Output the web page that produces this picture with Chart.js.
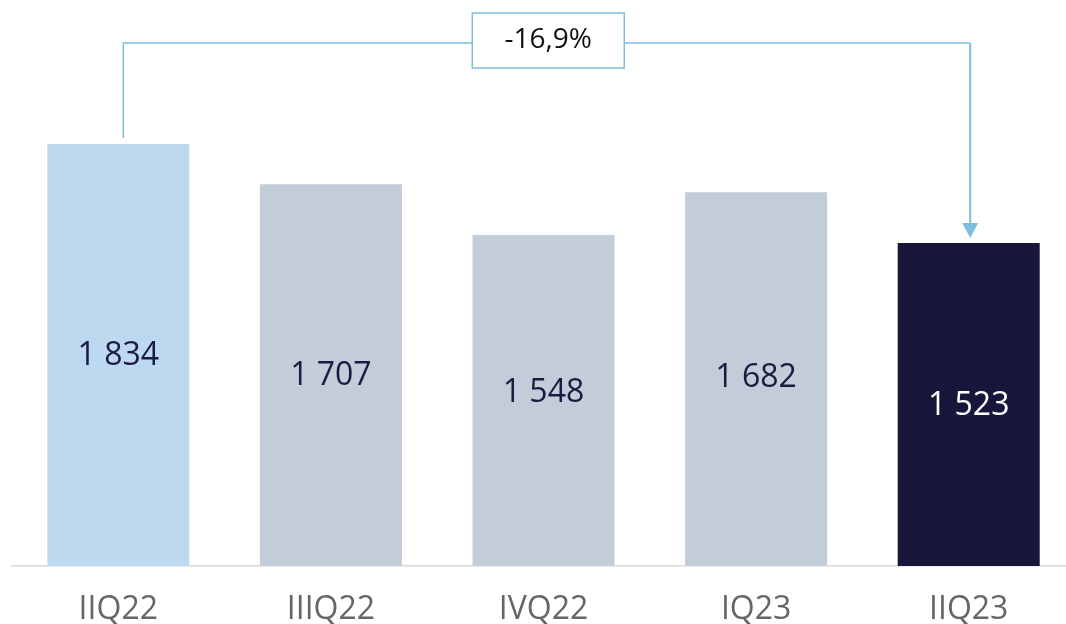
<!DOCTYPE html>
<html>
<head>
<meta charset="utf-8">
<script src="https://cdn.jsdelivr.net/npm/chart.js@4.4.1/dist/chart.umd.min.js"></script>
<style>
  html, body { margin: 0; padding: 0; background: #fff; overflow: hidden; }
  #wrap { width: 1076px; height: 624px; }
</style>
</head>
<body>
<div id="wrap"><canvas id="chart" width="1076" height="624"></canvas></div>
<script>
// Dane wykresu
const quarters = ['IIQ22', 'IIIQ22', 'IVQ22', 'IQ23', 'IIQ23'];
const values = [1834, 1707, 1548, 1682, 1523];
const valueLabels = ['1 834', '1 707', '1 548', '1 682', '1 523'];
const barColors = ['#BDD9F0', '#C3CDDA', '#C3CDDA', '#C3CDDA', '#17173B'];
const labelColors = ['#1B1B40', '#1B1B40', '#1B1B40', '#1B1B40', '#FFFFFF'];
const labelShift = [1, 1, -7.5, -1.5, 1.3]; // drobne przesuniecia etykiet jak w oryginale
const changeLabel = '-16,9%';

const FONT = "'Open Sans', 'Noto Sans', sans-serif";
const lineColor = '#7EBFDE';

// etykiety wartosci w srodku slupkow
const valueLabelPlugin = {
    id: 'valueLabels',
    afterDatasetsDraw(chart) {
        const ctx = chart.ctx;
        const meta = chart.getDatasetMeta(0);
        const bottom = chart.chartArea.bottom;
        ctx.save();
        ctx.font = '32px ' + FONT;
        ctx.textAlign = 'center';
        ctx.textBaseline = 'middle';
        meta.data.forEach((bar, i) => {
            ctx.fillStyle = labelColors[i];
            ctx.fillText(valueLabels[i], bar.x, (bar.y + bottom) / 2 + labelShift[i]);
        });
        ctx.restore();
    }
};

// klamra ze strzalka i zmiana procentowa
const bracketPlugin = {
    id: 'bracket',
    afterDatasetsDraw(chart) {
        const ctx = chart.ctx;
        const meta = chart.getDatasetMeta(0);
        const first = meta.data[0];
        const last = meta.data[meta.data.length - 1];
        const x1 = first.x + 5, x2 = last.x + 1.5;
        const topY = 43;
        const boxW = 152, boxH = 55, boxTop = 13;
        const cx = (x1 + x2) / 2 + 1.5;

        ctx.save();
        ctx.strokeStyle = lineColor;
        ctx.lineWidth = 1.5;
        ctx.beginPath();
        ctx.moveTo(x1, first.y - 6);
        ctx.lineTo(x1, topY);
        ctx.lineTo(cx - boxW / 2, topY);
        ctx.moveTo(cx + boxW / 2, topY);
        ctx.lineTo(x2, topY);
        ctx.stroke();

        const tipY = last.y - 5;
        ctx.lineWidth = 2;
        ctx.beginPath();
        ctx.moveTo(x2, topY);
        ctx.lineTo(x2, tipY - 12);
        ctx.stroke();
        ctx.fillStyle = lineColor;
        ctx.beginPath();
        ctx.moveTo(x2 - 8, tipY - 15);
        ctx.lineTo(x2 + 8, tipY - 15);
        ctx.lineTo(x2, tipY);
        ctx.closePath();
        ctx.fill();

        // ramka z tekstem
        ctx.fillStyle = '#FFFFFF';
        ctx.fillRect(cx - boxW / 2, boxTop, boxW, boxH);
        ctx.lineWidth = 1.5;
        ctx.strokeRect(cx - boxW / 2, boxTop, boxW, boxH);
        ctx.fillStyle = '#111111';
        ctx.font = '28px ' + FONT;
        ctx.textAlign = 'center';
        ctx.textBaseline = 'middle';
        ctx.fillText(changeLabel, cx, boxTop + boxH / 2);
        ctx.restore();
    }
};

new Chart(document.getElementById('chart'), {
    type: 'bar',
    data: {
        labels: quarters,
        datasets: [{
            data: values,
            backgroundColor: barColors,
            borderWidth: 0,
            categoryPercentage: 1,
            barPercentage: 0.668
        }]
    },
    options: {
        responsive: false,
        animation: false,
        layout: { padding: { left: 12, right: 1, top: 0, bottom: 0 } },
        plugins: {
            legend: { display: false },
            tooltip: { enabled: false }
        },
        scales: {
            x: {
                grid: { display: false, drawTicks: false },
                border: { display: true, color: '#D9D9D9', width: 1.5 },
                ticks: {
                    color: '#666666',
                    font: { family: FONT, size: 32 },
                    padding: 25
                },
                afterFit(scale) { scale.height = 58; }
            },
            y: {
                display: false,
                min: 508,
                max: 2286
            }
        }
    },
    plugins: [valueLabelPlugin, bracketPlugin]
});
</script>
</body>
</html>
